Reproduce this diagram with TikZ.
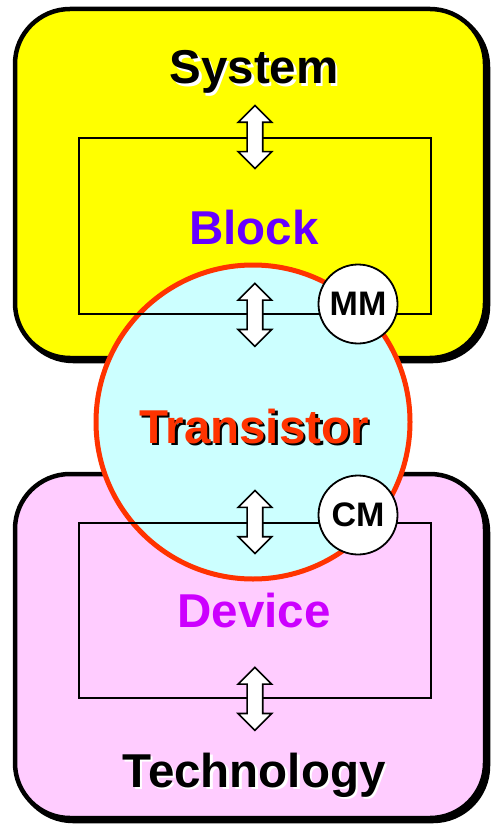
\documentclass[tikz,border=0pt]{standalone}
\usepackage{fontspec}
\setmainfont{Liberation Sans}
\usetikzlibrary{shapes.arrows}
\definecolor{sysyellow}{HTML}{FFFF00}
\definecolor{devpink}{HTML}{FFCCFF}
\definecolor{trcyan}{HTML}{CCFFFF}
\definecolor{trred}{HTML}{FF3300}
\definecolor{blockpurple}{HTML}{6600FF}
\definecolor{devmagenta}{HTML}{CC00FF}
\newcommand\shadowed[3]{\leavevmode\rlap{\kern#3\raisebox{-#3}{\textcolor{#2}{#1}}}#1}
\begin{document}
\begin{tikzpicture}[x=1pt,y=-1pt,
 levelbox/.style={line width=4.5pt, rounded corners=55pt},
 innerrect/.style={draw, line width=1.8pt, inner sep=0pt, anchor=north west},
 biglabel/.style={font=\fontsize{47.5}{50}\selectfont\bfseries, inner sep=0pt, anchor=base},
 modelcircle/.style={circle, draw, line width=1.8pt, fill=white, minimum size=79pt, inner sep=0pt, font=\fontsize{34}{36}\selectfont\bfseries},
 dblarrow/.style={double arrow, draw, fill=white, line width=1.6pt, rotate=90, minimum height=63pt, inner sep=7pt, double arrow head extend=9pt, double arrow head indent=0pt}
]
\useasboundingbox (0,0) rectangle (491,826);
% System level box
\draw[levelbox, fill=black] (18,12) rectangle (488,361);
\draw[levelbox, fill=sysyellow] (15,9) rectangle (485,358);
% Technology level box
\draw[levelbox, fill=black] (18,477) rectangle (488,821);
\draw[levelbox, fill=devpink] (15,474) rectangle (485,818);
% Transistor circle
\node[circle, draw=trred, line width=5pt, fill=trcyan, minimum size=314pt, inner sep=0pt] (trans) at (253,422) {};
% inner rectangles
\node[innerrect, minimum width=352pt, minimum height=176pt] (blockrect) at (78,137) {};
\node[innerrect, minimum width=352pt, minimum height=175pt] (devrect) at (78,522) {};
% arrows
\node[dblarrow] (a1) at (blockrect.north) {};
\node[dblarrow] (a2) at (blockrect.south) {};
\node[dblarrow] (a3) at (devrect.north) {};
\node[dblarrow] (a4) at (devrect.south) {};
% model circles
\node[modelcircle] (mm) at (358,304) {MM};
\node[modelcircle] (cm) at (358,515) {CM};
% labels
\node[biglabel] (system) at (254,84) {\shadowed{System}{white}{2.5pt}};
\node[biglabel, text=blockpurple] (block) at (254,244) {Block};
\node[biglabel, text=trred] (transistor) at (254,443) {\shadowed{Transistor}{black}{2.5pt}};
\node[biglabel, text=devmagenta] (device) at (254,627) {Device};
\node[biglabel] (technology) at (254,787) {\shadowed{Technology}{white}{2.5pt}};
\end{tikzpicture}
\end{document}
